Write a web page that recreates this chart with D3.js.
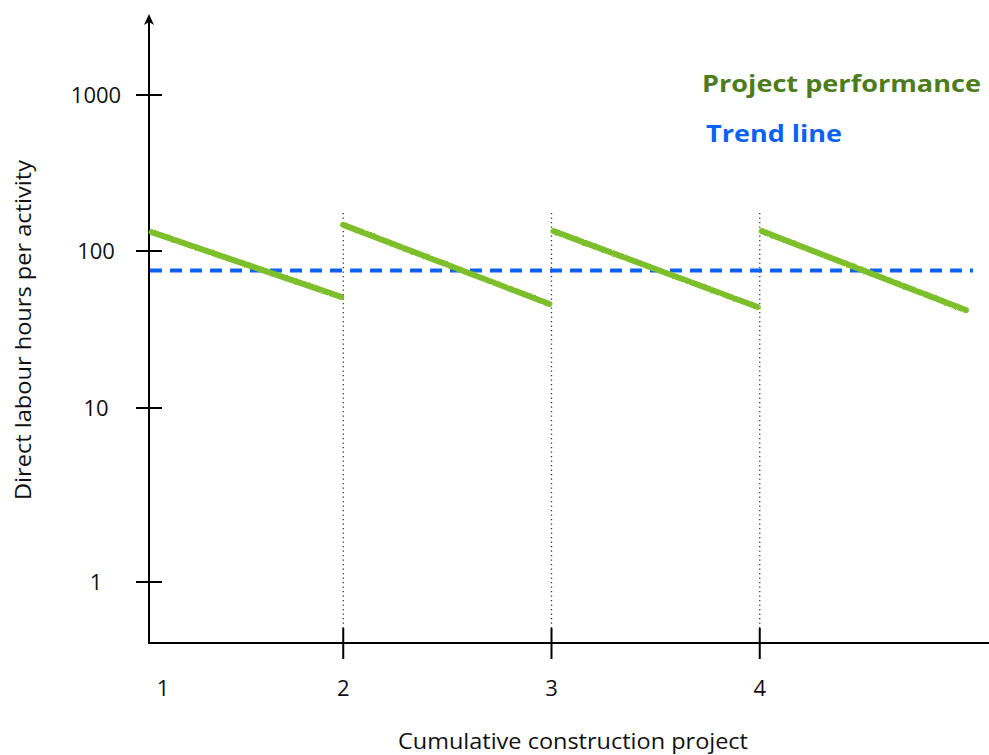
<!DOCTYPE html>
<html>
<head>
<meta charset="utf-8">
<script src="https://cdn.jsdelivr.net/npm/d3@7"></script>
<style>
body { margin: 0; background: #fff; }
text { font-family: "Open Sans", Lato, sans-serif; fill: #111; }
</style>
</head>
<body>
<div id="chart"></div>
<script>
var w = 989;
var h = 755;

// projects on x axis, each segment runs from project start to next project
var projects = ["1", "2", "3", "4"];
var segStart = [1.08, 2.0, 3.01, 4.01];
var segEnd = [1.99, 2.99, 3.99, 4.99];
// direct labour hours at start / end of each project
var startHours = [132, 147, 134, 134];
var endHours = [51, 46, 44, 42];
var trendHours = 75;
var yTicks = [1, 10, 100, 1000];

var svg = d3.select("#chart")
    .append("svg")
    .attr("width", w)
    .attr("height", h);

var xScale = d3.scaleLinear()
    .domain([1, 5])
    .range([135, 968]);

// piecewise log scale, the decades in the picture are not quite even
var yScale = d3.scaleLog()
    .domain([1, 10, 100, 1000])
    .range([582, 408, 251, 95]);

var axisX = 149, axisY = 643;

// rough chalky look for the green lines
var defs = svg.append("defs");
var f = defs.append("filter").attr("id", "rough").attr("x", "-5%").attr("y", "-50%").attr("width", "110%").attr("height", "200%");
f.append("feTurbulence").attr("type", "fractalNoise").attr("baseFrequency", 0.9).attr("numOctaves", 2).attr("result", "noise");
f.append("feDisplacementMap").attr("in", "SourceGraphic").attr("in2", "noise").attr("scale", 2.5);

// dotted separators between projects
svg.selectAll(".sep")
    .data(projects.slice(1))
    .enter().append("line")
    .attr("class", "sep")
    .attr("x1", function(d){ return xScale(+d); })
    .attr("x2", function(d){ return xScale(+d); })
    .attr("y1", 213)
    .attr("y2", axisY - 15)
    .attr("stroke", "#333")
    .attr("stroke-width", 1.3)
    .attr("stroke-dasharray", "1.3,3.2");

// axes lines
svg.append("line")
    .attr("x1", axisX).attr("y1", axisY + 1)
    .attr("x2", axisX).attr("y2", 20)
    .attr("stroke", "#000").attr("stroke-width", 2);
svg.append("path") // arrow head
    .attr("d", "M" + axisX + ",14 L" + (axisX - 5) + ",25 L" + axisX + ",22 L" + (axisX + 5) + ",25 Z")
    .attr("fill", "#000");
svg.append("line")
    .attr("x1", axisX - 1).attr("y1", axisY)
    .attr("x2", w).attr("y2", axisY)
    .attr("stroke", "#000").attr("stroke-width", 2);

// y ticks
svg.selectAll(".ytick")
    .data(yTicks)
    .enter().append("line")
    .attr("x1", axisX - 13).attr("x2", axisX + 13)
    .attr("y1", function(d){ return yScale(d); })
    .attr("y2", function(d){ return yScale(d); })
    .attr("stroke", "#000").attr("stroke-width", 2);
svg.selectAll(".ylab")
    .data(yTicks)
    .enter().append("text")
    .attr("x", 96)
    .attr("y", function(d){ return yScale(d) + 8; })
    .attr("text-anchor", "middle")
    .attr("font-size", 22)
    .text(function(d){ return d; });

// x ticks
svg.selectAll(".xtick")
    .data(projects.slice(1))
    .enter().append("line")
    .attr("x1", function(d){ return xScale(+d); })
    .attr("x2", function(d){ return xScale(+d); })
    .attr("y1", axisY - 15).attr("y2", axisY + 16)
    .attr("stroke", "#000").attr("stroke-width", 2);
svg.selectAll(".xlab")
    .data(projects)
    .enter().append("text")
    .attr("x", function(d){ return Math.max(xScale(+d), axisX + 14); })
    .attr("y", 696)
    .attr("text-anchor", "middle")
    .attr("font-size", 22)
    .text(function(d){ return d; });

// trend line
svg.append("line")
    .attr("x1", axisX + 1).attr("x2", 973)
    .attr("y1", yScale(trendHours)).attr("y2", yScale(trendHours))
    .attr("stroke", "#0a62f5")
    .attr("stroke-width", 4)
    .attr("stroke-dasharray", "12,8");

// project performance segments
svg.selectAll(".seg")
    .data(projects)
    .enter().append("line")
    .attr("class", "seg")
    .attr("x1", function(d, i){ return xScale(segStart[i]); })
    .attr("x2", function(d, i){ return xScale(segEnd[i]); })
    .attr("y1", function(d, i){ return yScale(startHours[i]); })
    .attr("y2", function(d, i){ return yScale(endHours[i]); })
    .attr("stroke", "#7bbf2c")
    .attr("stroke-width", 6)
    .attr("stroke-linecap", "round")
    .attr("filter", "url(#rough)");

// legend
svg.append("text")
    .attr("x", 702).attr("y", 92)
    .attr("font-size", 23).attr("font-weight", "bold")
    .attr("textLength", 279).attr("lengthAdjust", "spacingAndGlyphs")
    .style("fill", "#4d7c1b")
    .text("Project performance");
svg.append("text")
    .attr("x", 706).attr("y", 142)
    .attr("font-size", 23).attr("font-weight", "bold")
    .attr("textLength", 136).attr("lengthAdjust", "spacingAndGlyphs")
    .style("fill", "#0a62f5")
    .text("Trend line");

// axis titles
svg.append("text")
    .attr("transform", "translate(31,330) rotate(-90)")
    .attr("text-anchor", "middle")
    .attr("font-size", 21)
    .attr("textLength", 340).attr("lengthAdjust", "spacingAndGlyphs")
    .text("Direct labour hours per activity");
svg.append("text")
    .attr("x", 573).attr("y", 749)
    .attr("text-anchor", "middle")
    .attr("font-size", 21)
    .attr("textLength", 350).attr("lengthAdjust", "spacingAndGlyphs")
    .text("Cumulative construction project");
</script>
</body>
</html>
